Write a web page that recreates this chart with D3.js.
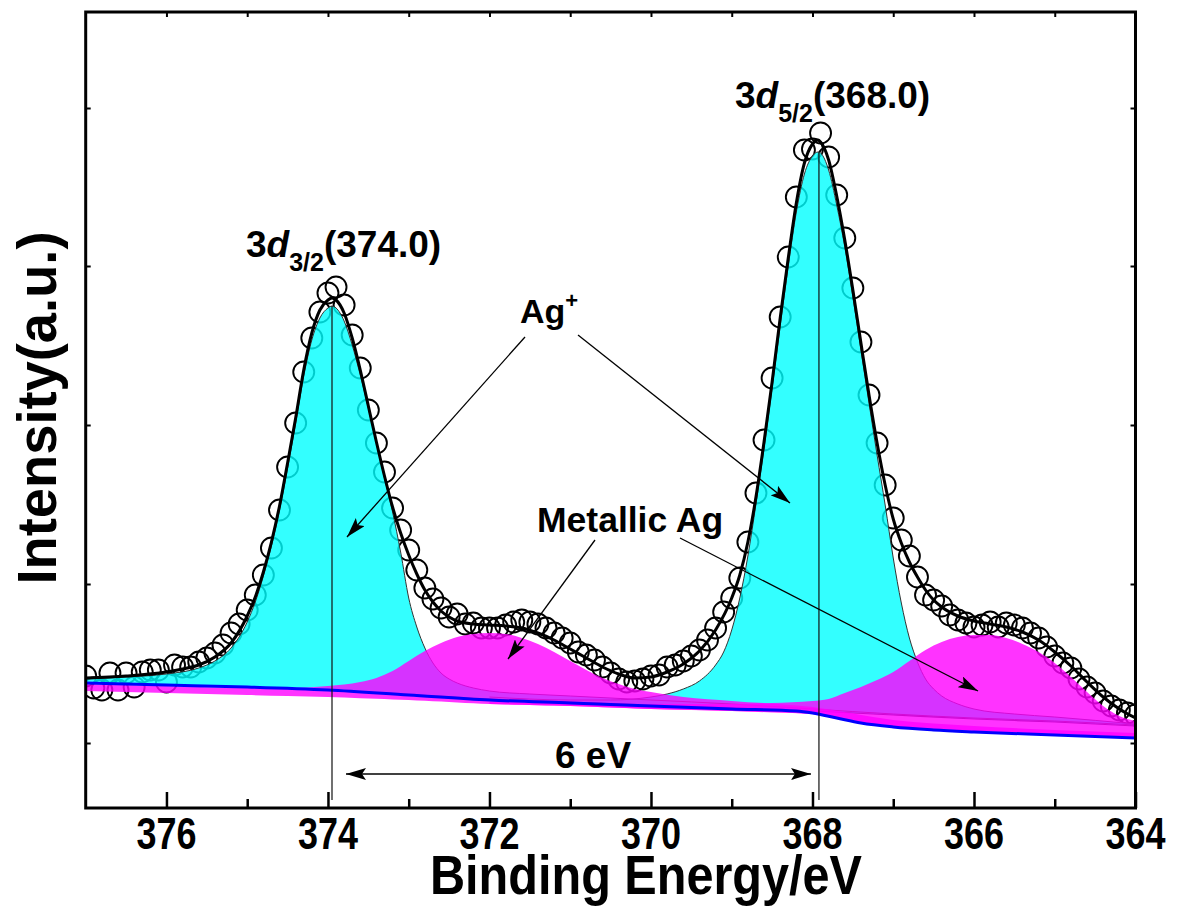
<!DOCTYPE html>
<html><head><meta charset="utf-8">
<script src="https://cdn.jsdelivr.net/npm/d3@7"></script>
<style>
body{margin:0;background:#fff}
svg{display:block}
text{font-family:"Liberation Sans",Arial,Helvetica,sans-serif;font-weight:bold;fill:#000}
</style>
</head><body>
<svg id="chart" width="1182" height="913"></svg>
<script>
// ---------- DATA ----------
const xTickLabels = [376, 374, 372, 370, 368, 366, 364];
const xMinorTicks = [375, 373, 371, 369, 367, 365];
const topTicks = [376, 375, 374, 373, 372, 371, 370, 369, 368, 367, 366, 365];
const yTicks = [65, 224, 383, 542, 700];

const dataEnergy = [377.0,376.9,376.8,376.7,376.6,376.5,376.4,376.3,376.2,376.1,
376.0,375.9,375.8,375.7,375.6,375.5,375.4,375.3,375.2,375.1,
375.0,374.9,374.8,374.7,374.6,374.5,374.4,374.3,374.2,374.1,
374.0,373.9,373.8,373.7,373.6,373.5,373.4,373.3,373.2,373.1,
373.0,372.9,372.8,372.7,372.6,372.5,372.4,372.3,372.2,372.1,
372.0,371.9,371.8,371.7,371.6,371.5,371.4,371.3,371.2,371.1,
371.0,370.9,370.8,370.7,370.6,370.5,370.4,370.3,370.2,370.1,
370.0,369.9,369.8,369.7,369.6,369.5,369.4,369.3,369.2,369.1,
369.0,368.9,368.8,368.7,368.6,368.5,368.4,368.3,368.2,368.1,
368.0,367.9,367.8,367.7,367.6,367.5,367.4,367.3,367.2,367.1,
367.0,366.9,366.8,366.7,366.6,366.5,366.4,366.3,366.2,366.1,
366.0,365.9,365.8,365.7,365.6,365.5,365.4,365.3,365.2,365.1,
365.0,364.9,364.8,364.7,364.6,364.5,364.4,364.3,364.2,364.1,364.0];
const dataIntensity = [132,120,118,135,118,135,121,136,138,138,
126,143,141,141,146,150,155,163,175,184,
198,213,233,260,298,341,385,436,470,496,
515,521,503,473,440,398,365,336,300,278,
258,238,220,209,200,191,194,184,185,180,
180,180,183,186,188,186,184,180,175,170,
165,156,153,148,141,135,129,126,127,129,
132,133,141,143,147,152,158,168,180,196,
210,230,266,315,368,430,491,551,611,658,
659,675,651,613,570,520,466,413,365,323,
290,268,252,231,213,208,202,193,188,185,
181,183,186,181,185,183,180,175,170,161,
152,145,140,129,121,115,107,102,98,95,93];

const fitEnvelope = [[377.0,130],[376.5,132],[376.0,136],[375.8,139],[375.6,143],[375.4,151],[375.2,165],
[375.0,192],[374.9,211],[374.8,236],[374.7,266],[374.6,302],[374.5,345],[374.4,390],[374.3,438],
[374.2,475],[374.1,498],[374.0,508],[373.95,510],[373.9,508],[373.8,495],[373.7,470],[373.6,438],
[373.5,402],[373.4,366],[373.3,332],[373.2,301],[373.1,275],[373.0,253],[372.9,234],[372.8,218],
[372.7,206],[372.6,197],[372.5,191],[372.4,187],[372.2,184],[372.0,183],[371.8,182],[371.6,180],
[371.4,175],[371.2,168],[371.0,159],[370.8,150],[370.6,141],[370.4,134],[370.2,130],[370.0,131],
[369.8,136],[369.6,144],[369.4,157],[369.2,178],[369.0,210],[368.9,233],[368.8,266],[368.7,311],
[368.6,366],[368.5,426],[368.4,490],[368.3,550],[368.2,605],[368.1,645],[368.0,664],[367.93,668],
[367.9,666],[367.8,648],[367.7,612],[367.6,568],[367.5,518],[367.4,465],[367.3,413],[367.2,365],
[367.1,323],[367.0,289],[366.9,265],[366.8,246],[366.7,231],[366.6,218],[366.5,208],[366.4,201],
[366.2,192],[366.0,187],[365.8,184],[365.6,181],[365.4,176],[365.2,168],[365.0,156],[364.8,142],
[364.6,126],[364.4,111],[364.2,99],[364.0,90]];

const agIon32 = [[377.0,129],[376.5,131],[376.0,134],[375.6,140],[375.4,147],[375.2,160],[375.0,186],
[374.9,206],[374.8,232],[374.7,262],[374.6,298],[374.5,340],[374.4,385],[374.3,432],[374.2,468],
[374.1,490],[374.0,500],[373.95,502],[373.9,500],[373.8,487],[373.7,463],[373.6,433],[373.5,400],
[373.4,365],[373.3,330],[373.2,296],[373.1,256],[373.0,210],[372.9,181],[372.8,160],[372.7,145],
[372.6,135],[372.5,129],[372.4,125],[372.2,120],[372.0,117],[371.5,114],[371.0,112],[370.0,108],
[369.0,104],[368.0,99],[367.0,94],[366.0,90],[365.0,87],[364.0,83]];

const agIon52 = [[372.0,111],[371.0,108],[370.5,108],[370.0,111],[369.8,114],[369.6,119],[369.4,127],
[369.2,143],[369.1,156],[369.0,178],[368.9,210],[368.8,252],[368.7,304],[368.6,360],[368.5,420],
[368.4,482],[368.3,542],[368.2,596],[368.1,634],[368.0,652],[367.93,656],[367.9,655],[367.8,638],
[367.7,603],[367.6,561],[367.5,511],[367.4,458],[367.3,405],[367.2,353],[367.1,303],[367.0,250],
[366.9,205],[366.8,170],[366.7,146],[366.6,129],[366.5,119],[366.4,112],[366.2,104],[366.0,99],
[365.5,94],[365.0,91],[364.0,84]];

const agMetal32 = [[377.0,124],[376.0,122],[375.0,120],[374.5,120],[374.0,122],[373.6,126],[373.4,130],
[373.2,137],[373.0,147],[372.8,157],[372.6,165],[372.4,171],[372.2,174],[372.0,175],[371.8,174],
[371.6,170],[371.4,164],[371.2,156],[371.0,147],[370.8,138],[370.6,130],[370.4,124],[370.2,119],
[370.0,116],[369.6,111],[369.0,107],[368.0,101],[367.0,88],[366.0,82],[365.0,78],[364.0,75]];

const agMetal52 = [[372.0,106],[371.0,105],[370.0,104],[369.0,104],[368.5,105],[368.0,107],[367.8,109],
[367.6,115],[367.4,121],[367.2,128],[367.0,136],[366.8,147],[366.6,158],[366.4,166],[366.2,171],
[366.0,173],[365.8,173],[365.6,170],[365.4,164],[365.2,156],[365.0,145],[364.8,131],[364.6,116],
[364.4,102],[364.2,92],[364.0,87]];

const ionBackground = [[377.0,125],[374.0,118],[372.0,109],[370.0,103],[368.5,99],[368.0,97],
[367.0,93],[366.0,89],[365.0,86],[364.0,82]];
const metalBackground = [[377.0,117],[376.0,115],[375.0,113],[374.0,111],[373.0,108],[372.0,104],
[371.0,102],[370.0,99],[369.0,97],[368.0,94],[367.5,86],[367.0,81],[366.0,77],[365.0,74],[364.0,71]];
const shirleyBackground = [[377.0,125],[376.0,123],[375.0,121],[374.0,118],[373.0,113],[372.0,108],
[371.0,105],[370.0,102],[369.0,99],[368.2,97],[368.0,95],[367.7,90],[367.4,85],[367.0,81],
[366.5,78],[366.0,76],[365.0,73],[364.0,70]];

const peakCenters = [373.95, 367.92];

// ---------- CHART ----------
const svg = d3.select("#chart");
const L = 85.7, R = 1135.5, T = 12, B = 808;
const x = d3.scaleLinear().domain([377, 364]).range([L, R]);
const y = d3.scaleLinear().domain([0, 796]).range([B, T]);

const defs = svg.append("defs");
defs.append("clipPath").attr("id", "plotclip").append("rect")
  .attr("x", L).attr("y", T).attr("width", R - L).attr("height", B - T);
defs.append("marker").attr("id", "arr").attr("viewBox", "0 0 20 12")
  .attr("refX", 20).attr("refY", 6).attr("markerWidth", 20).attr("markerHeight", 12)
  .attr("markerUnits", "userSpaceOnUse").attr("orient", "auto-start-reverse")
  .append("path").attr("d", "M0,0 L20,6 L0,12 L4,6 Z").attr("fill", "#000");

const plot = svg.append("g").attr("clip-path", "url(#plotclip)");

// data circles
plot.append("g").selectAll("circle").data(dataEnergy).join("circle")
  .attr("cx", d => x(d)).attr("cy", (d, i) => y(dataIntensity[i]))
  .attr("r", 10.5).attr("fill", "none").attr("stroke", "#000").attr("stroke-width", 1.9);

const interp = arr => d3.scaleLinear().domain(arr.map(d => d[0])).range(arr.map(d => d[1])).clamp(true);
const lineGen = d3.line().x(d => x(d[0])).y(d => y(d[1])).curve(d3.curveMonotoneX);
function fillComp(arr, base, color) {
  const b = interp(base);
  const area = d3.area().x(d => x(d[0])).y1(d => y(d[1])).y0(d => y(b(d[0]))).curve(d3.curveMonotoneX);
  plot.append("path").datum(arr).attr("d", area).attr("fill", color).attr("fill-opacity", 0.8);
}

// Ag+ components
fillComp(agIon32, ionBackground, "#00ffff");
fillComp(agIon52, ionBackground, "#00ffff");
[agIon32, agIon52].forEach(a => plot.append("path").datum(a).attr("d", lineGen)
  .attr("fill", "none").attr("stroke", "#333").attr("stroke-width", 1));
plot.append("path").datum(ionBackground).attr("d", lineGen)
  .attr("fill", "none").attr("stroke", "#222").attr("stroke-width", 1.2);

// metallic Ag components
fillComp(agMetal32, metalBackground, "#ff00ff");
fillComp(agMetal52, metalBackground, "#ff00ff");

// background
plot.append("path").datum(shirleyBackground).attr("d", lineGen)
  .attr("fill", "none").attr("stroke", "#0000ff").attr("stroke-width", 3);

// envelope
plot.append("path").datum(fitEnvelope).attr("d", lineGen)
  .attr("fill", "none").attr("stroke", "#000").attr("stroke-width", 3);

// peak centre lines
const topOf = [interp(agIon32), interp(agIon52)];
svg.append("g").selectAll("line").data(peakCenters).join("line")
  .attr("x1", d => x(d)).attr("x2", d => x(d))
  .attr("y1", (d, i) => y(topOf[i](d))).attr("y2", 800)
  .attr("stroke", "#111").attr("stroke-width", 1.2);

// axes frame
svg.append("rect").attr("x", L).attr("y", T).attr("width", R - L).attr("height", B - T)
  .attr("fill", "none").attr("stroke", "#000").attr("stroke-width", 3);

function styleAxis(g, w) { g.select(".domain").remove(); g.selectAll("line").attr("stroke-width", w); }
styleAxis(svg.append("g").attr("transform", `translate(0,${B})`)
  .call(d3.axisBottom(x).tickValues(xTickLabels).tickSize(-16).tickFormat("")), 2.5);
styleAxis(svg.append("g").attr("transform", `translate(0,${B})`)
  .call(d3.axisBottom(x).tickValues(xMinorTicks).tickSize(-9).tickFormat("")), 2.5);
styleAxis(svg.append("g").attr("transform", `translate(0,${T})`)
  .call(d3.axisTop(x).tickValues(topTicks).tickSize(-5).tickFormat("")), 2);
styleAxis(svg.append("g").attr("transform", `translate(${L},0)`)
  .call(d3.axisLeft(y).tickValues(yTicks).tickSize(-5).tickFormat("")), 2);
styleAxis(svg.append("g").attr("transform", `translate(${R},0)`)
  .call(d3.axisRight(y).tickValues(yTicks).tickSize(-5).tickFormat("")), 2);

// tick labels
svg.append("g").selectAll("text").data(xTickLabels).join("text")
  .attr("x", d => x(d)).attr("y", 849).attr("text-anchor", "middle")
  .attr("font-size", 44).attr("textLength", 60).attr("lengthAdjust", "spacingAndGlyphs")
  .text(d => d);

// axis titles
svg.append("text").attr("x", 646).attr("y", 894).attr("text-anchor", "middle")
  .attr("font-size", 56).attr("textLength", 432).attr("lengthAdjust", "spacingAndGlyphs")
  .text("Binding Energy/eV");
svg.append("text").attr("transform", "translate(56,408) rotate(-90)").attr("text-anchor", "middle")
  .attr("font-size", 55).attr("textLength", 353).attr("lengthAdjust", "spacingAndGlyphs")
  .text("Intensity(a.u.)");

// peak labels
function peakLabel(px, py, sub, val) {
  const t = svg.append("text").attr("x", px).attr("y", py).attr("font-size", 37);
  t.append("tspan").text("3");
  t.append("tspan").attr("font-style", "italic").text("d");
  t.append("tspan").attr("font-size", 25).attr("dy", 14).text(sub);
  t.append("tspan").attr("dy", -14).text("(" + val + ")");
}
peakLabel(246, 257, "3/2", "374.0");
peakLabel(735, 108, "5/2", "368.0");

// annotations
const ag = svg.append("text").attr("x", 520).attr("y", 323).attr("font-size", 34);
ag.append("tspan").text("Ag");
ag.append("tspan").attr("font-size", 22).attr("dy", -15).text("+");
svg.append("text").attr("x", 537).attr("y", 532).attr("font-size", 35.5).text("Metallic Ag");
svg.append("text").attr("x", 555).attr("y", 768).attr("font-size", 37).text("6 eV");

const arrows = [
  [525, 337, 347, 537],
  [578, 335, 790, 503],
  [595, 540, 508, 659],
  [680, 538, 978, 691]
];
svg.append("g").selectAll("line").data(arrows).join("line")
  .attr("x1", d => d[0]).attr("y1", d => d[1]).attr("x2", d => d[2]).attr("y2", d => d[3])
  .attr("stroke", "#000").attr("stroke-width", 1.3).attr("marker-end", "url(#arr)");
svg.append("line").attr("x1", x(peakCenters[0]) + 14).attr("x2", x(peakCenters[1]) - 8)
  .attr("y1", 774).attr("y2", 774).attr("stroke", "#000").attr("stroke-width", 1.3)
  .attr("marker-start", "url(#arr)").attr("marker-end", "url(#arr)");
</script>
</body></html>
